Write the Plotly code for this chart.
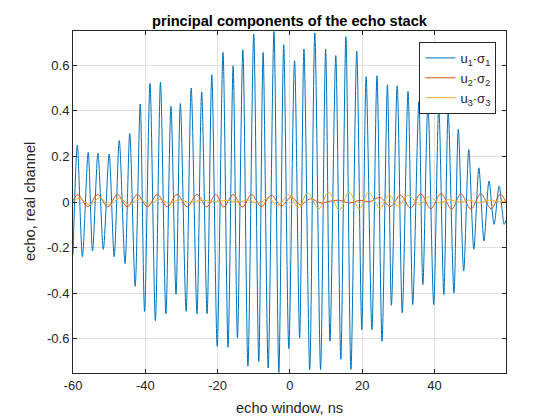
import plotly.graph_objects as go

# u1*sigma1 (blue): alternating extremes
u1_x = [-60, -58.8, -57.4, -55.8, -54.6, -53.1, -51.6, -50.0, -48.6, -47.2, -45.6, -44.3,
        -42.8, -41.4, -40.2, -38.7, -37.2, -35.8, -34.3, -32.9, -31.5, -30.3, -28.7, -27.3,
        -25.7, -24.4, -22.9, -21.6, -20.1, -18.5, -17.1, -15.7, -14.5, -13.0, -11.6, -10.0,
        -8.6, -7.4, -6.0, -4.4, -3.05, -1.7, -0.3, 1.3, 2.7, 3.9, 5.5, 6.9, 8.5, 9.9, 11.1,
        12.7, 14.1, 15.5, 16.9, 18.5, 19.9, 21.1, 22.7, 24.1, 25.5, 27.0, 28.1, 29.7, 31.1,
        32.7, 34.0, 35.7, 36.8, 38.2, 39.8, 41.2, 42.6, 43.8, 45.4, 46.6, 48.1, 49.5, 50.9,
        52.3, 53.7, 55.1, 56.5, 57.9, 59.3, 59.8]
u1_y = [-0.23, 0.25, -0.24, 0.217, -0.215, 0.214, -0.208, 0.21, -0.24, 0.27, -0.27, 0.30,
        -0.37, 0.43, -0.48, 0.52, -0.52, 0.525, -0.49, 0.42, -0.405, 0.432, -0.48, 0.50,
        -0.49, 0.483, -0.49, 0.558, -0.633, 0.656, -0.637, 0.598, -0.596, 0.667, -0.72, 0.737,
        -0.70, 0.656, -0.728, 0.748, -0.748, 0.69, -0.643, 0.62, -0.596, 0.671, -0.735, 0.741,
        -0.735, 0.671, -0.611, 0.642, -0.69, 0.725, -0.735, 0.661, -0.56, 0.55, -0.56, 0.554,
        -0.611, 0.514, -0.453, 0.51, -0.486, 0.485, -0.45, 0.44, -0.362, 0.43, -0.45, 0.42,
        -0.406, 0.395, -0.40, 0.32, -0.303, 0.23, -0.208, 0.15, -0.171, 0.092, -0.098, 0.07,
        -0.098, -0.08]

# u2*sigma2 (orange)
u2_x = [-60, -58.6, -55.9, -53.2, -50.4, -47.7, -45.0, -42.2, -39.4, -36.7, -33.9, -31.2,
        -28.4, -25.7, -23.0, -20.5, -18.3, -15.7, -13.1, -10.6, -7.9, -5.1, -2.4, 0.4, 2.9,
        5.7, 8.6, 11.2, 13.8, 16.5, 19.3, 22.1, 24.9, 27.8, 30.6, 33.4, 36.2, 39.0, 41.8,
        44.8, 47.3, 50.1, 52.8, 55.7, 58.2, 59.8]
u2_y = [0.005, 0.032, -0.02, 0.033, -0.021, 0.033, -0.021, 0.033, -0.021, 0.033, -0.021, 0.033,
        -0.021, 0.033, -0.021, 0.033, -0.022, 0.033, -0.022, 0.033, -0.02, 0.03, -0.018, 0.022,
        -0.012, 0.014, -0.005, 0.004, 0.007, -0.004, 0.007, 0.002, 0.02, -0.02, 0.03, -0.027,
        0.035, -0.03, 0.036, -0.031, 0.036, -0.031, 0.036, -0.03, 0.034, 0.0]

# u3*sigma3 (yellow)
u3_x = [-60, -58.2, -55.4, -52.7, -49.9, -47.2, -44.4, -41.7, -38.9, -36.2, -33.4, -30.7,
        -27.9, -24.5, -21.0, -17.4, -14.0, -11.4, -8.7, -5.9, -3.4, -0.3, 2.4, 4.9, 8.0,
        10.7, 13.7, 16.4, 19.2, 21.8, 24.9, 27.5, 29.9, 32.7, 36.0, 38.3, 41.5, 43.8, 47.0,
        49.5, 52.5, 55.0, 58.0, 59.8]
u3_y = [0.0, 0.018, -0.012, 0.018, -0.013, 0.017, -0.012, 0.014, -0.01, 0.012, -0.006, 0.01,
        -0.002, 0.008, 0.002, 0.007, 0.0, 0.009, -0.006, 0.019, -0.017, 0.032, -0.025, 0.04,
        -0.03, 0.043, -0.035, 0.043, -0.03, 0.042, -0.028, 0.032, -0.019, 0.029, -0.012,
        0.022, -0.004, 0.01, 0.0, 0.008, -0.002, 0.008, 0.0, 0.005]

x_ticks = [-60, -40, -20, 0, 20, 40]
x_ticktext = ["-60", "-40", "-20", "0", "20", "40"]
y_ticks = [-0.6, -0.4, -0.2, 0, 0.2, 0.4, 0.6]
y_ticktext = ["-0.6", "-0.4", "-0.2", "0", "0.2", "0.4", "0.6"]

names = ["u<sub>1</sub>·σ<sub>1</sub>", "u<sub>2</sub>·σ<sub>2</sub>", "u<sub>3</sub>·σ<sub>3</sub>"]
colors = ["#0072BD", "#D95319", "#EDB120"]

FONT = "Liberation Sans, Arial, Helvetica, sans-serif"
INK = "#262626"

fig = go.Figure()
fig.add_trace(go.Scatter(x=u1_x, y=u1_y, mode="lines", name=names[0],
                         line=dict(color=colors[0], width=1, shape="spline", smoothing=0.8)))
fig.add_trace(go.Scatter(x=u2_x, y=u2_y, mode="lines", name=names[1],
                         line=dict(color=colors[1], width=1, shape="spline", smoothing=1.0)))
fig.add_trace(go.Scatter(x=u3_x, y=u3_y, mode="lines", name=names[2],
                         line=dict(color=colors[2], width=1, shape="spline", smoothing=1.0)))

axis_common = dict(
    ticks="inside", ticklen=4, tickcolor=INK, tickwidth=1,
    showline=True, linecolor=INK, linewidth=1, mirror="ticks",
    showgrid=True, gridcolor="#E0E0E0", gridwidth=1, zeroline=False,
    tickfont=dict(family=FONT, size=13, color=INK),
    automargin=False,
)

# The page body carries an 8px default margin, so the figure is 8px smaller
# and its margins are shifted to keep the plot box where the reference has it.
fig.update_layout(
    width=552, height=412,
    margin=dict(l=65, r=54, t=23, b=47, autoexpand=False),
    paper_bgcolor="white", plot_bgcolor="white",
    font=dict(family=FONT, color=INK),
    title=dict(text="<b>principal components of the echo stack</b>",
               x=0.5, xref="paper", xanchor="center",
               y=1 - 13 / 412, yref="container", yanchor="middle",
               font=dict(family=FONT, size=14.6, color="black")),
    xaxis=dict(range=[-60, 59.8], tickvals=x_ticks, ticktext=x_ticktext, **axis_common),
    yaxis=dict(range=[-0.75, 0.75], tickvals=y_ticks, ticktext=y_ticktext, **axis_common),
    legend=dict(x=0.978, y=0.968, xanchor="right", yanchor="top",
                bgcolor="white", bordercolor=INK, borderwidth=1,
                font=dict(family=FONT, size=13, color=INK),
                tracegroupgap=0),
    showlegend=True,
    annotations=[
        dict(text="echo window, ns", xref="paper", yref="paper", x=0.5, y=0,
             xanchor="center", yanchor="middle", yshift=-35, showarrow=False,
             font=dict(family=FONT, size=14.6, color=INK)),
        dict(text="echo, real channel", xref="paper", yref="paper", x=0, y=0.5,
             xanchor="center", yanchor="middle", xshift=-43, textangle=-90, showarrow=False,
             font=dict(family=FONT, size=14.6, color=INK)),
    ],
)

fig.write_html("out.html", config={"displayModeBar": False})
